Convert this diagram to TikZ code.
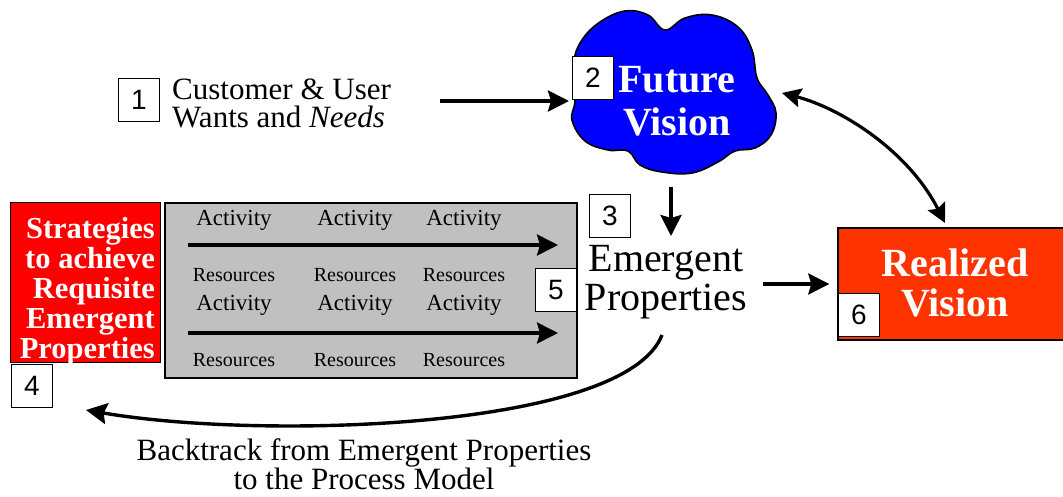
\documentclass[tikz,border=0pt]{standalone}
\usepackage{fontspec}
\setmainfont{Liberation Serif}
\newfontfamily\numfont{Liberation Sans}
\usetikzlibrary{arrows.meta}
\definecolor{cloudblue}{RGB}{0,0,255}
\definecolor{stratred}{RGB}{255,0,0}
\definecolor{realred}{RGB}{255,51,0}
\definecolor{procgray}{RGB}{192,192,192}
\begin{document}
\begin{tikzpicture}[x=1pt,y=-1pt,
  numbox/.style={draw=black, line width=1.3pt, fill=white, minimum width=41pt, minimum height=43pt, inner sep=0pt, font=\numfont\fontsize{28}{28}\selectfont},
  arr/.style={line width=3.4pt, -{Stealth[length=21pt,width=21pt,inset=3pt]}},
  biarr/.style={line width=3.2pt, {Stealth[length=19pt,width=19pt,inset=3pt]}-{Stealth[length=19pt,width=19pt,inset=3pt]}},
  bigtext/.style={font=\fontsize{40}{39}\selectfont, align=center, inner sep=0pt},
  boldwhite/.style={text=white, font=\bfseries\fontsize{40}{43}\selectfont, align=center, inner sep=0pt},
  bodytext/.style={font=\fontsize{31}{28}\selectfont, inner sep=0pt},
  acttext/.style={font=\fontsize{23}{23}\selectfont, inner sep=0pt},
  restext/.style={font=\fontsize{20}{20}\selectfont, inner sep=0pt},
]
\useasboundingbox (0,0) rectangle (1063,497);

% cloud
\draw[fill=cloudblue, line width=1.6pt] plot[smooth cycle, tension=0.65] coordinates {
 (574,62) (582,40) (600,22) (625,11) (648,15) (665,30) (685,18) (712,15) (738,27) (752,50) (757,78) (768,95) (776,113) (771,135) (755,148) (735,151) (718,162) (692,173) (662,172) (640,165) (628,151) (608,150) (585,141) (572,120) (575,100)};
\node[boldwhite] (fv) at (677,101) {Future\\Vision};
\node[numbox] (n2) at (593,78) {2};

% customer
\node[numbox] (n1) at (139,100) {1};
\node[bodytext, anchor=west, align=left] (cust) at (172,103) {Customer \& User\\Wants and \textit{Needs}};
\coordinate (a1s) at (440,101);
\coordinate (a1e) at (569,101);
\draw[arr] (a1s) -- (a1e);

% emergent properties
\node[bigtext] (ep) at (666,282) {Emergent\\Properties};
\node[numbox] (n3) at (610,216) {3};
\coordinate (a2s) at (671,187);
\coordinate (a2e) at (671,236);
\draw[arr] (a2s) -- (a2e);

% realized vision
\node[draw=black, line width=1.4pt, fill=realred, minimum width=228pt, minimum height=112pt, inner sep=0pt] (rv) at (952,284) {};
\node[boldwhite, font=\bfseries\fontsize{40}{40}\selectfont] (rvt) at (955,283) {Realized\\Vision};
\node[numbox] (n6) at (859,315) {6};
\draw[arr] ([xshift=16pt]ep.east |- rv.west) -- ([xshift=-8pt]rv.west);

\coordinate (b1) at (782,93);
\coordinate (b2) at (945,223);
\draw[biarr] (b1) .. controls (840,108) and (908,150) .. (b2);

% strategies
\node[draw=black, line width=1pt, fill=stratred, minimum width=150pt, minimum height=159pt, inner sep=0pt] (st) at (85,282.5) {};
\node[text=white, font=\bfseries\fontsize{30.5}{30}\selectfont, align=right, inner sep=0pt, anchor=east] (stt) at (155,291) {Strategies\\to achieve\\Requisite\\Emergent\\Properties};
\node[numbox] (n4) at (32,386) {4};

% process box
\node[draw=black, line width=1.2pt, fill=procgray, minimum width=412pt, minimum height=175pt, inner sep=0pt] (pb) at (371,290.5) {};
\node[acttext] (a11) at (234,220) {Activity};
\node[acttext] (a12) at (355,220) {Activity};
\node[acttext] (a13) at (464,220) {Activity};
\node[restext] (r11) at (234,275) {Resources};
\node[restext] (r12) at (355,275) {Resources};
\node[restext] (r13) at (464,275) {Resources};
\node[acttext] (a21) at (234,305) {Activity};
\node[acttext] (a22) at (355,305) {Activity};
\node[acttext] (a23) at (464,305) {Activity};
\node[restext] (r21) at (234,360) {Resources};
\node[restext] (r22) at (355,360) {Resources};
\node[restext] (r23) at (464,360) {Resources};
\coordinate (p1s) at (188,245);
\coordinate (p1e) at (558,245);
\coordinate (p2s) at (188,333);
\coordinate (p2e) at (558,333);
\draw[arr] (p1s) -- (p1e);
\draw[arr] (p2s) -- (p2e);
\node[numbox] (n5) at (556,290) {5};

% backtrack
\coordinate (c1) at (662,335);
\coordinate (c2) at (86,410);
\draw[arr] (c1) .. controls (625,430) and (260,440) .. (c2);
\node[bodytext, align=center, font=\fontsize{31}{29}\selectfont] (bt) at (364,464) {Backtrack from Emergent Properties\\to the Process Model};
\end{tikzpicture}
\end{document}
